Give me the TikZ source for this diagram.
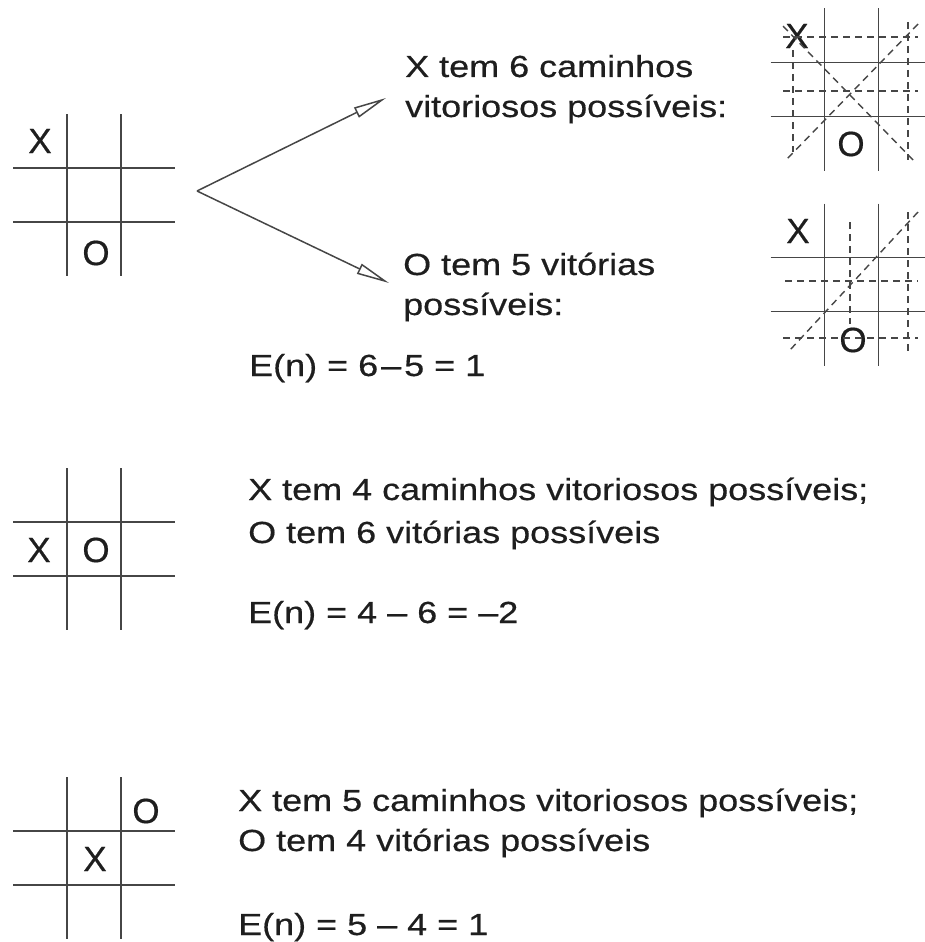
\documentclass[tikz,border=0pt]{standalone}
\usepackage{fontspec}
\setmainfont{Liberation Sans}[FakeStretch=1.18,FakeBold=0.5]
\newfontfamily\piecefont{Liberation Sans}[FakeBold=0.5]
\usepackage{tikz}
\usetikzlibrary{arrows.meta}
\definecolor{tink}{RGB}{30,30,30}
\definecolor{tline}{RGB}{70,70,70}
\tikzset{
  gridline/.style={line width=1.8pt,tline},
  winline/.style={line width=1.4pt,tline,dash pattern=on 7pt off 5pt},
  piece/.style={font=\piecefont\fontsize{35}{35}\selectfont,text=tink,inner sep=0pt},
  txt/.style={anchor=base west,align=left,inner sep=0pt,text=tink,
              font=\fontsize{30.5}{40}\selectfont},
  fork/.style={-{Triangle[open,length=33pt,width=11pt]},line width=1.5pt,tline},
  board/.pic={
    \draw[gridline] (-27,-81) -- (-27,81) (27,-81) -- (27,81)
                    (-81,-27) -- (81,-27) (-81,27) -- (81,27);
  },
}

\begin{document}
\begin{tikzpicture}[x=1pt,y=-1pt]
  \useasboundingbox (0,0) rectangle (925,942);
  % position with two pieces
  \pic at (94,195) {board};
  \node[piece] (x1) at (40,141) {X};
  \node[piece] (o1) at (96,253) {O};
  \coordinate (split) at (197,191);
  \coordinate (xtip) at (386,98);
  \coordinate (otip) at (389,283);
  \draw[fork] (split) -- (xtip);
  \draw[fork] (split) -- (otip);
  \node[txt] (xwins) at (405,117) {X tem 6 caminhos\\vitoriosos possíveis:};
  \node[txt] (owins) at (403,315) {O tem 5 vitórias\\possíveis:};
  \node[txt] (e1) at (249,376) {E(n) = 6\kern3pt\textendash\kern3pt5 = 1};
  % winning lines for X
  \pic at (851.5,89.5) {board};
  \node[piece] (xa) at (797,36) {X};
  \node[piece] (oa) at (851,144) {O};
  \draw[winline] (783,37) -- (918,37);
  \draw[winline] (783,91) -- (918,91);
  \draw[winline] (793,50) -- (793,152);
  \draw[winline] (908,22) -- (908,160);
  \draw[winline] (783,26) -- (913,160);
  \draw[winline] (918,24) -- (786,160);
  % winning lines for O
  \pic at (851.5,284.5) {board};
  \node[piece] (xb) at (798,231) {X};
  \node[piece] (ob) at (853,340) {O};
  \draw[winline] (850,222) -- (850,324);
  \draw[winline] (908,212) -- (908,352);
  \draw[winline] (785,281) -- (918,281);
  \draw[winline] (783,338) -- (918,338);
  \draw[winline] (918,212) -- (790,350);
  % second position
  \pic at (94,549) {board};
  \node[piece] (x2) at (39,550) {X};
  \node[piece] (o2) at (96,550) {O};
  \node[txt] (t2) at (248,543) {X tem 4 caminhos vitoriosos possíveis;\\[3pt]O tem 6 vitórias possíveis};
  \node[txt] (e2) at (248,623) {E(n) = 4 \textendash{} 6 = \textendash2};
  % third position
  \pic at (94,858) {board};
  \node[piece] (o3) at (146,811) {O};
  \node[piece] (x3) at (95,859) {X};
  \node[txt] (t3) at (238,851) {X tem 5 caminhos vitoriosos possíveis;\\O tem 4 vitórias possíveis};
  \node[txt] (e3) at (238,935) {E(n) = 5 \textendash{} 4 = 1};
\end{tikzpicture}
\end{document}
